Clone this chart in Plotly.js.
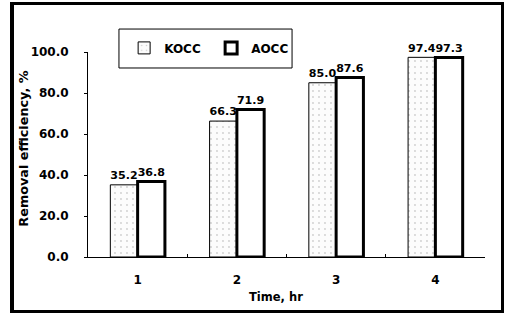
<!DOCTYPE html>
<html><head><meta charset="utf-8">
<script src="https://cdn.plot.ly/plotly-3.0.1.min.js"></script>
<style>
html,body{margin:0;padding:0;background:#fff;}
#frame{position:absolute;left:10px;top:2px;width:487px;height:305px;border:3px solid #000;border-left-width:4px;pointer-events:none;}
#chart{position:absolute;left:0;top:0;width:506px;height:319px;}
</style></head>
<body>
<div id="chart"></div>
<div id="frame"></div>
<script>
var categories = ['1', '2', '3', '4'];
var koccValues = [35.2, 66.3, 85.0, 97.4];
var aoccValues = [36.8, 71.9, 87.6, 97.3];
var yTickVals = [0, 20, 40, 60, 80, 100];
var yTickText = ['0.0', '20.0', '40.0', '60.0', '80.0', '100.0'];

var F = 'DejaVu Sans, sans-serif';
function bf(s){ return {family: F, size: s, color: '#000', weight: 'bold'}; }

var traces = [
  {type: 'bar', name: 'KOCC', x: categories, y: koccValues,
   text: koccValues.map(function(v){return v.toFixed(1);}),
   textposition: 'outside', textfont: bf(12), cliponaxis: false,
   marker: {color: '#fcfcfc', line: {color: '#000', width: 1},
     pattern: {shape: '.', fgcolor: '#d0d0d0', bgcolor: '#fcfcfc', size: 6, solidity: 0.08}}},
  {type: 'bar', name: 'AOCC', x: categories, y: aoccValues,
   text: aoccValues.map(function(v){return v.toFixed(1);}),
   textposition: 'outside', textfont: bf(12), cliponaxis: false,
   marker: {color: '#ffffff', line: {color: '#000', width: 3}}}
];

var layout = {
  width: 506, height: 319,
  margin: {l: 88, r: 21, t: 52, b: 62},
  paper_bgcolor: '#fff', plot_bgcolor: '#fff',
  font: {family: F, size: 12, color: '#000'},
  barmode: 'group', bargap: 0.45, bargroupgap: 0,
  showlegend: true,
  legend: {orientation: 'h', x: 0.091, y: 1.02, xanchor: 'left', yanchor: 'middle',
    borderwidth: 0, bgcolor: 'rgba(0,0,0,0)',
    font: bf(12), itemwidth: 30, entrywidth: 42, traceorder: 'normal'},
  shapes: [{type: 'rect', xref: 'paper', yref: 'paper',
    x0: 0.078, x1: 0.514, y0: 0.922, y1: 1.112,
    line: {color: '#000', width: 1}, fillcolor: 'rgba(0,0,0,0)', layer: 'above'}],
  annotations: [
    {xref: 'paper', yref: 'paper', x: 0.473, y: -0.195,
     xanchor: 'center', yanchor: 'middle', showarrow: false,
     text: 'Time, hr', font: bf(11.5)},
    {xref: 'paper', yref: 'paper', x: -0.162, y: 0.527,
     xanchor: 'center', yanchor: 'middle', showarrow: false, textangle: -90,
     text: 'Removal efficiency, %', font: bf(12.8)}
  ],
  xaxis: {type: 'category', showline: true, linecolor: '#000', linewidth: 1,
    ticks: 'inside', tickson: 'boundaries', ticklen: 3, tickcolor: '#000',
    tickfont: bf(12), ticklabelstandoff: 12,
    showgrid: false, zeroline: false},
  yaxis: {range: [0, 100], showline: true, linecolor: '#000', linewidth: 1,
    ticks: 'outside', ticklen: 3, tickcolor: '#000',
    tickvals: yTickVals, ticktext: yTickText,
    tickfont: bf(12), ticklabelstandoff: 13,
    showgrid: false, zeroline: false}
};

Plotly.newPlot('chart', traces, layout, {displayModeBar: false, staticPlot: true});
</script>
</body></html>
